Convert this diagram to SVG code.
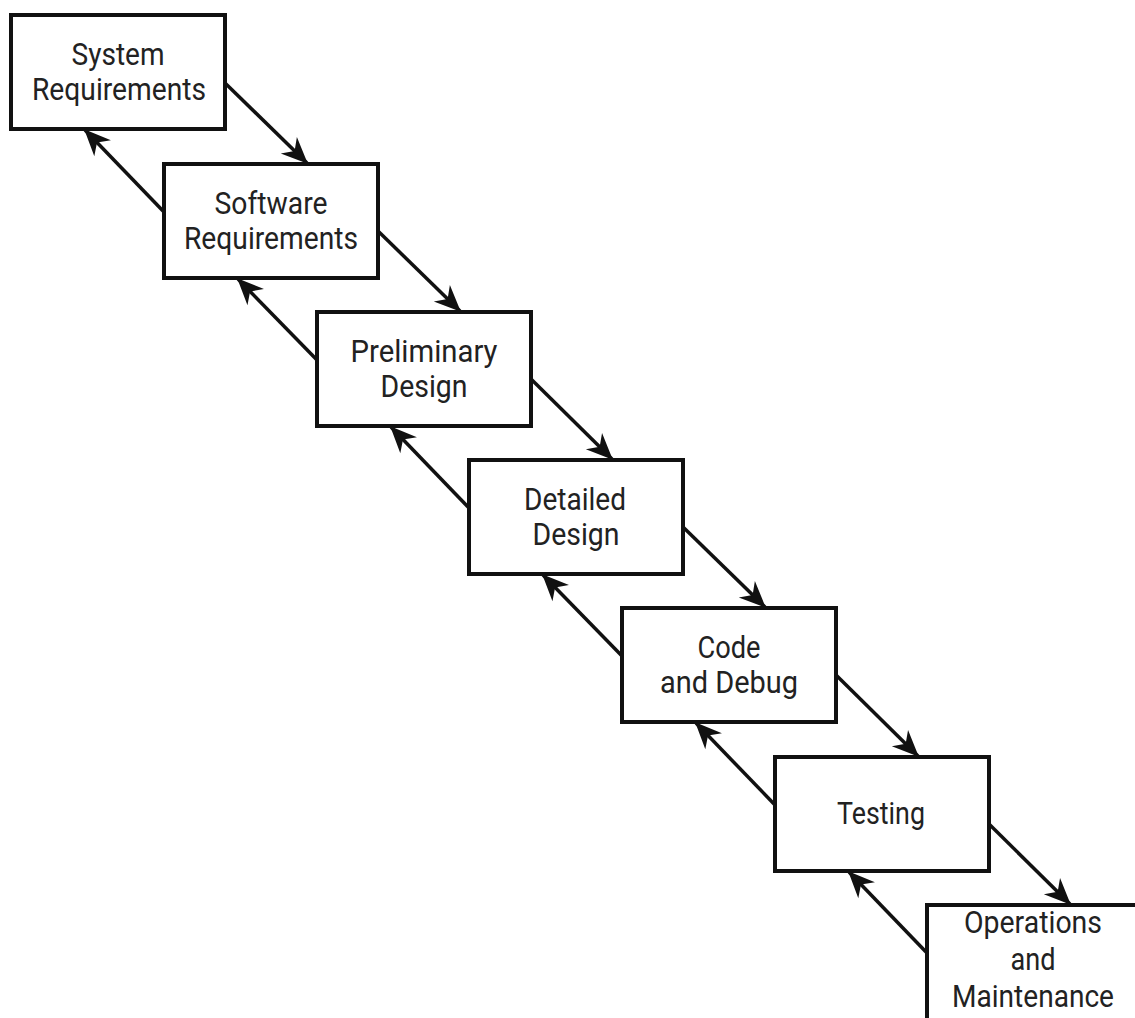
<svg xmlns="http://www.w3.org/2000/svg" width="1135" height="1018" viewBox="0 0 1135 1018">
<defs>
<style>
.box{fill:#fff;stroke:#111;stroke-width:4}
.lbl{font-family:Roboto,"Liberation Sans",sans-serif;font-size:31px;fill:#222;text-anchor:middle}
.con{stroke:#111;stroke-width:3.5;fill:none}
</style>
<marker id="ah" markerUnits="userSpaceOnUse" markerWidth="30" markerHeight="30" viewBox="-24 -12 26 24" refX="0" refY="0" orient="auto">
<path d="M1,0 L-22,-10 L-15,0 L-22,10 Z" fill="#111"/>
</marker>
</defs>
<rect width="1135" height="1018" fill="#fff"/>
<g id="connectors">
<line class="con" x1="225" y1="83" x2="307" y2="163" marker-end="url(#ah)"/>
<line class="con" x1="378" y1="231" x2="460" y2="311" marker-end="url(#ah)"/>
<line class="con" x1="531" y1="379" x2="612" y2="459" marker-end="url(#ah)"/>
<line class="con" x1="683" y1="527" x2="765" y2="607" marker-end="url(#ah)"/>
<line class="con" x1="836" y1="675" x2="918" y2="756" marker-end="url(#ah)"/>
<line class="con" x1="989" y1="824" x2="1070" y2="904" marker-end="url(#ah)"/>
<line class="con" x1="164" y1="212" x2="85" y2="130" marker-end="url(#ah)"/>
<line class="con" x1="317" y1="360" x2="238" y2="279" marker-end="url(#ah)"/>
<line class="con" x1="469" y1="508" x2="391" y2="427" marker-end="url(#ah)"/>
<line class="con" x1="622" y1="656" x2="543" y2="575" marker-end="url(#ah)"/>
<line class="con" x1="775" y1="805" x2="696" y2="723" marker-end="url(#ah)"/>
<line class="con" x1="927" y1="953" x2="849" y2="872" marker-end="url(#ah)"/>
</g>
<g id="n1"><rect class="box" x="11" y="15" width="214" height="114"/><text class="lbl" x="118" y="65" textLength="93" lengthAdjust="spacingAndGlyphs">System</text><text class="lbl" x="119" y="100" textLength="174" lengthAdjust="spacingAndGlyphs">Requirements</text></g>
<g id="n2"><rect class="box" x="164" y="164" width="214" height="114"/><text class="lbl" x="271" y="214" textLength="113" lengthAdjust="spacingAndGlyphs">Software</text><text class="lbl" x="271" y="249" textLength="174" lengthAdjust="spacingAndGlyphs">Requirements</text></g>
<g id="n3"><rect class="box" x="317" y="312" width="214" height="114"/><text class="lbl" x="424" y="362" textLength="147" lengthAdjust="spacingAndGlyphs">Preliminary</text><text class="lbl" x="424" y="397" textLength="87" lengthAdjust="spacingAndGlyphs">Design</text></g>
<g id="n4"><rect class="box" x="469" y="460" width="214" height="114"/><text class="lbl" x="575" y="510" textLength="102" lengthAdjust="spacingAndGlyphs">Detailed</text><text class="lbl" x="576" y="545" textLength="87" lengthAdjust="spacingAndGlyphs">Design</text></g>
<g id="n5"><rect class="box" x="622" y="608" width="214" height="114"/><text class="lbl" x="729" y="658" textLength="63" lengthAdjust="spacingAndGlyphs">Code</text><text class="lbl" x="729" y="693" textLength="138" lengthAdjust="spacingAndGlyphs">and Debug</text></g>
<g id="n6"><rect class="box" x="775" y="757" width="214" height="114"/><text class="lbl" x="881" y="824" textLength="88" lengthAdjust="spacingAndGlyphs">Testing</text></g>
<g id="n7"><rect class="box" x="927" y="905" width="214" height="116"/><text class="lbl" x="1033" y="933" textLength="138" lengthAdjust="spacingAndGlyphs">Operations</text><text class="lbl" x="1033" y="970" textLength="45" lengthAdjust="spacingAndGlyphs">and</text><text class="lbl" x="1033" y="1007" textLength="162" lengthAdjust="spacingAndGlyphs">Maintenance</text></g>
</svg>
